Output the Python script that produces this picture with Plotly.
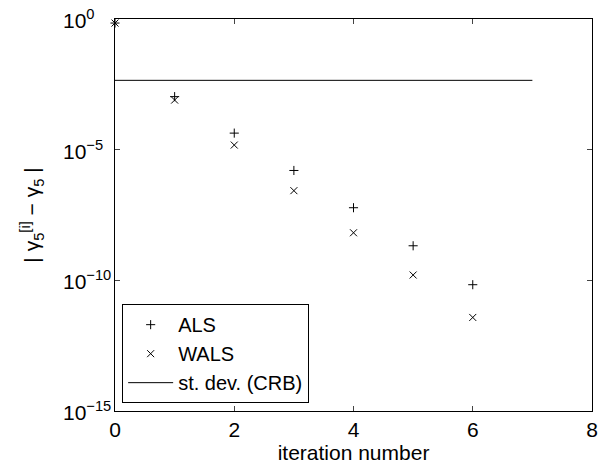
import math
import plotly.graph_objects as go

iterations = [0, 1, 2, 3, 4, 5, 6]
als_err = [0.7, 1.07e-3, 4.3e-5, 1.6e-6, 6.0e-8, 2.1e-9, 6.8e-11]
wals_err = [0.7, 7.9e-4, 1.5e-5, 2.7e-7, 6.6e-9, 1.6e-10, 3.8e-12]
crb_x = [0, 7]
crb_y = [4.5e-3, 4.5e-3]
ytick_vals = [1e0, 1e-5, 1e-10, 1e-15]
ytick_text = ["10<sup>0</sup>", "10<sup>−5</sup>", "10<sup>−10</sup>", "10<sup>−15</sup>"]
xtick_vals = [0, 2, 4, 6, 8]

FONT = "Liberation Sans, Arial, sans-serif"

fig = go.Figure()
fig.add_trace(go.Scatter(x=iterations, y=als_err, mode="markers", name="ALS",
                         marker=dict(symbol="cross-thin", size=6.5, line=dict(color="black", width=1)),
                         cliponaxis=False))
fig.add_trace(go.Scatter(x=iterations, y=wals_err, mode="markers", name="WALS",
                         marker=dict(symbol="x-thin", size=7, line=dict(color="black", width=1)),
                         cliponaxis=False))
fig.add_trace(go.Scatter(x=crb_x, y=crb_y, mode="lines", name="st. dev. (CRB)",
                         line=dict(color="black", width=1)))

# y tick labels: MATLAB-style, base "10" left-aligned in a column
for v, t in zip(ytick_vals, ytick_text):
    fig.add_annotation(x=-0.1135, xref="paper", y=math.log10(v), yref="y",
                       text=t, showarrow=False, xanchor="left", yanchor="middle",
                       font=dict(size=21, family=FONT, color="black"))

fig.update_layout(
    width=612, height=470,
    margin=dict(l=115, r=20, t=19, b=59, autoexpand=False),
    paper_bgcolor="white", plot_bgcolor="white",
    font=dict(family=FONT, size=21, color="black"),
    showlegend=True,
    legend=dict(x=0.015, y=0.02, xanchor="left", yanchor="bottom",
                bordercolor="black", borderwidth=1, bgcolor="white",
                font=dict(size=20), itemwidth=45, tracegroupgap=0),
    xaxis=dict(range=[0, 8], tickvals=xtick_vals, ticks="inside", ticklen=5,
               showline=True, linecolor="black", linewidth=1, mirror="ticks",
               showgrid=False, zeroline=False, automargin=False,
               title=dict(text="iteration number", standoff=0, font=dict(size=21)),
               tickfont=dict(size=21)),
    yaxis=dict(type="log", range=[-15, 0], tickvals=ytick_vals, showticklabels=False,
               ticks="inside", ticklen=5,
               showline=True, linecolor="black", linewidth=1, mirror="ticks",
               showgrid=False, zeroline=False, automargin=False,
               title=dict(text="| γ<sub>5</sub><sup>[i]</sup> − γ<sub>5</sub> |",
                          font=dict(size=21), standoff=68)),
)

fig.write_html("out.html", config={"displayModeBar": False},
               post_script="document.body.style.margin='0';")
